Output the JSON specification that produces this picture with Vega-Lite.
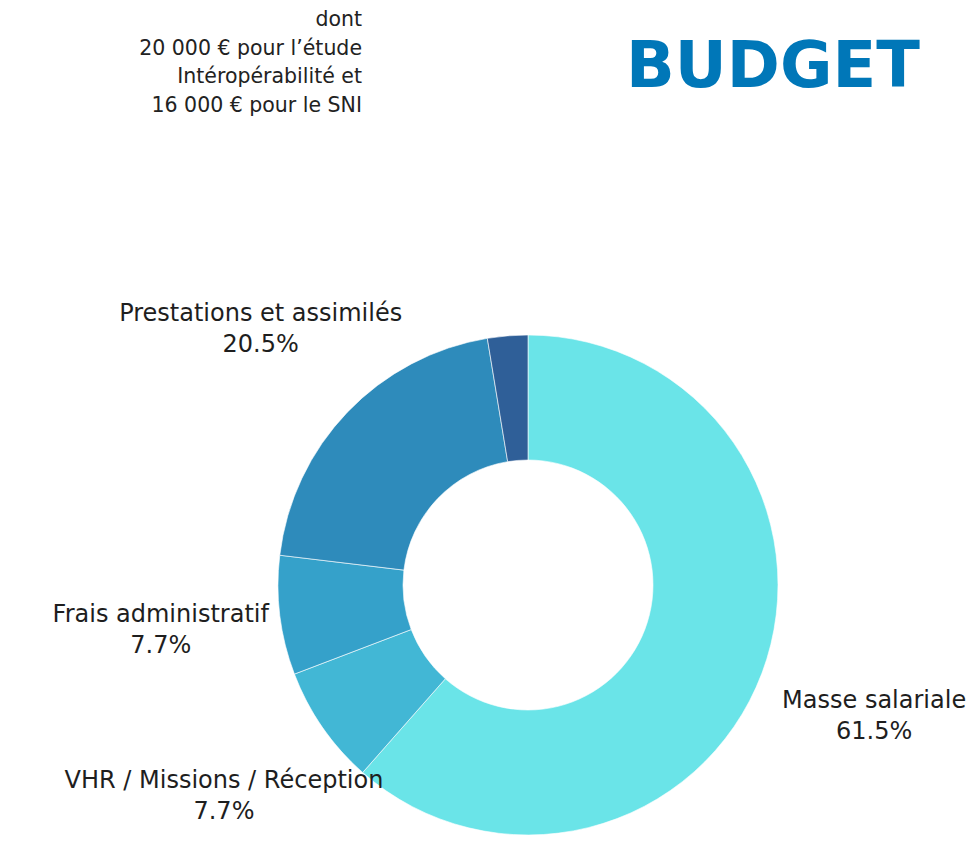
{
  "$schema": "https://vega.github.io/schema/vega-lite/v6.json",
  "width": 500,
  "height": 500,
  "autosize": {"type": "none"},
  "padding": {"left": 278, "top": 335, "right": 193, "bottom": 21},
  "background": "white",
  "title": {
    "text": "BUDGET",
    "anchor": "start",
    "frame": "group",
    "dx": 348,
    "dy": 90,
    "offset": 0,
    "font": "DejaVu Sans",
    "fontSize": 64,
    "fontWeight": "bold",
    "color": "#0077B8"
  },
  "data": {
    "values": [
      {"poste": "Masse salariale", "part": 61.5, "rang": 1},
      {"poste": "VHR / Missions / Réception", "part": 7.7, "rang": 2},
      {"poste": "Frais administratif", "part": 7.7, "rang": 3},
      {"poste": "Prestations et assimilés", "part": 20.5, "rang": 4},
      {"poste": "Autres", "part": 2.6, "rang": 5}
    ]
  },
  "encoding": {
    "theta": {"field": "part", "type": "quantitative", "stack": true},
    "order": {"field": "rang", "type": "quantitative"}
  },
  "layer": [
    {
      "mark": {"type": "arc", "innerRadius": 125, "outerRadius": 250, "stroke": "#ffffff", "strokeWidth": 0.6},
      "encoding": {
        "color": {
          "field": "poste",
          "type": "nominal",
          "scale": {
            "domain": ["Masse salariale", "VHR / Missions / Réception", "Frais administratif", "Prestations et assimilés", "Autres"],
            "range": ["#6AE4E8", "#42B7D5", "#35A1CA", "#2E8BBB", "#2F5F98"]
          },
          "legend": {
            "orient": "none",
            "legendX": 84,
            "legendY": -325,
            "values": [],
            "title": ["dont ", "20 000 € pour l’étude", "Intéropérabilité et", "16 000 € pour le SNI"],
            "titleAlign": "right",
            "titleAnchor": "end",
            "titleFont": "DejaVu Sans",
            "titleFontSize": 20.5,
            "titleFontWeight": "normal",
            "titleColor": "#222222",
            "titleLineHeight": 28.5,
            "titleLimit": 400
          }
        }
      }
    },
    {
      "transform": [
        {"calculate": "datum.part >= 5 ? datum.poste + '\\n' + format(datum.part, '.1f') + '%' : ''", "as": "etiquette"}
      ],
      "mark": {"type": "text", "radius": 370, "font": "DejaVu Sans", "fontSize": 24, "color": "#1e1e1e", "lineBreak": "\n", "lineHeight": 31, "align": "center", "baseline": "middle", "dy": -15},
      "encoding": {
        "text": {"field": "etiquette", "type": "nominal"}
      }
    }
  ],
  "config": {"view": {"stroke": null}}
}
